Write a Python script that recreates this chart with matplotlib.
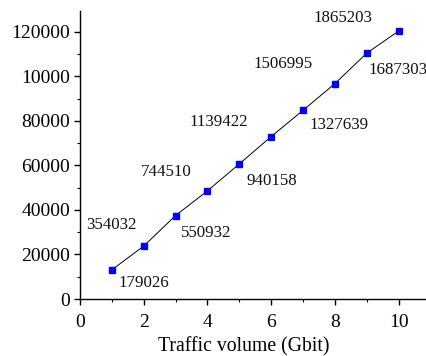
import matplotlib
matplotlib.use("Agg")
import matplotlib.pyplot as plt
from matplotlib.ticker import MultipleLocator, FixedLocator

plt.rcParams['font.family'] = ['Liberation Serif', 'DejaVu Serif']

# Data
traffic_gbit = [1, 2, 3, 4, 5, 6, 7, 8, 9, 10]
y_values = [13100, 23800, 37500, 48600, 60700, 73000, 84800, 96800, 110500, 120400]
point_labels = ["179026", "354032", "550932", "744510", "940158",
                "1139422", "1327639", "1506995", "1687303", "1865203"]
x_ticks = [0, 2, 4, 6, 8, 10]
y_ticks = [0, 20000, 40000, 60000, 80000, 100000, 120000]
y_tick_labels = ["0", "20000", "40000", "60000", "80000", "10000", "120000"]
x_label = "Traffic volume (Gbit)"

# label offsets (pixels: dx right, dy down), layout only
label_offsets = [(32, 13), (-32, -21), (31, 17), (-41, -19), (32, 17),
                 (-52, -15), (36, 15), (-52, -20), (31, 17), (-56, -13)]

fig = plt.figure(figsize=(4.26, 3.56), dpi=100)
ax = fig.add_axes([80/426, 57/356, 346/426, 288/356])

ax.plot(traffic_gbit, y_values, color='black', linewidth=0.7, zorder=2)
ax.plot(traffic_gbit, y_values, linestyle='none', marker='s', markersize=4.3,
        markerfacecolor='#0000ff', markeredgecolor='#0000ff', zorder=3)

px2pt = 0.72
for xv, yv, lab, (dx, dy) in zip(traffic_gbit, y_values, point_labels, label_offsets):
    ax.annotate(lab, xy=(xv, yv), xytext=(dx*px2pt, -dy*px2pt), textcoords='offset points',
                ha='center', va='center', fontsize=12.2, color='#111111')

ax.set_xlim(0, 346/31.87)
ax.set_ylim(0, 129400)

ax.xaxis.set_major_locator(FixedLocator(x_ticks))
ax.xaxis.set_minor_locator(MultipleLocator(1))
ax.yaxis.set_major_locator(FixedLocator(y_ticks))
ax.yaxis.set_minor_locator(MultipleLocator(10000))
ax.set_yticklabels(y_tick_labels)

ax.tick_params(axis='both', which='major', direction='out', length=4, width=1,
               labelsize=14, colors='black')
ax.tick_params(axis='x', which='major', pad=7)
ax.tick_params(axis='y', which='major', pad=3)
ax.tick_params(axis='both', which='minor', direction='out', length=2.5, width=0.8)

for s in ['top', 'right']:
    ax.spines[s].set_visible(False)
for s in ['left', 'bottom']:
    ax.spines[s].set_linewidth(1.0)

ax.set_xlabel(x_label, fontsize=14.2, va='top')
ax.xaxis.set_label_coords((244-80)/346, -(337-299)/288)

fig.savefig("out.png", dpi=100)
